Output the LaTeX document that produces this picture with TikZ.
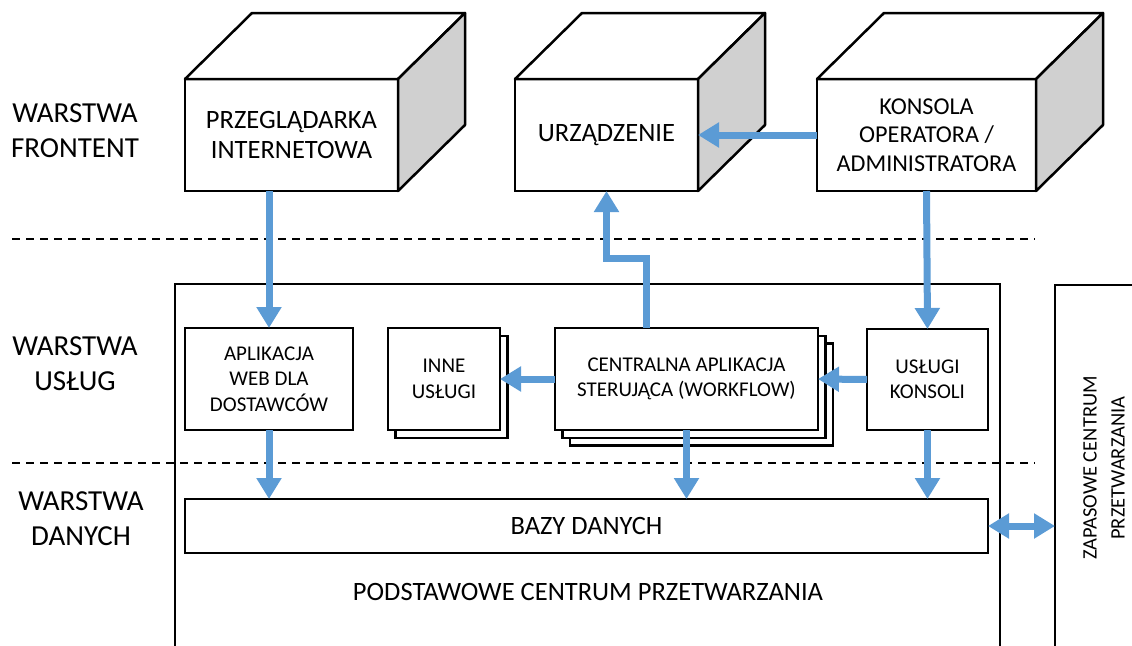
\documentclass[tikz,border=0pt]{standalone}
\usepackage{fontspec}
\setmainfont{Carlito}
\usetikzlibrary{positioning,calc,arrows.meta,shadows}

\definecolor{flowblue}{HTML}{5B9BD5}
\definecolor{sidegray}{HTML}{D0D0D0}

\tikzset{
  frontbox/.style={draw, line width=2.5pt, fill=white, inner sep=0pt, outer sep=0pt,
    align=center, font=\fontsize{26.5}{30}\selectfont},
  srvbox/.style={draw, line width=2.5pt, fill=white, inner sep=0pt, outer sep=0pt,
    align=center, font=\fontsize{21}{25.5}\selectfont},
  face/.style={draw, line width=2.5pt, line join=round},
  frame/.style={draw, line width=2pt},
  dashline/.style={line width=1.6pt, dash pattern=on 8pt off 6pt},
  layerlabel/.style={align=center, font=\fontsize{29}{35}\selectfont},
  flow/.style={draw=flowblue, line width=7pt, -{Triangle[width=24pt,length=21pt]}},
  flowboth/.style={draw=flowblue, line width=7pt,
    {Triangle[width=24pt,length=21pt]}-{Triangle[width=24pt,length=21pt]}}
}

\begin{document}
\begin{tikzpicture}[x=1pt,y=-1pt]
\useasboundingbox (0,0) rectangle (1132,645);

% layer borders
\draw[dashline] (12,239) -- (1035,239);
\draw[dashline] (12,463) -- (1035,463);

\node[layerlabel] (lblfront) at (75,131) {WARSTWA\\FRONTENT};
\node[layerlabel] (lblsrv) at (75,364) {WARSTWA\\USŁUG};
\node[layerlabel] (lbldata) at (81,519) {WARSTWA\\DANYCH};

% data centres
\draw[frame] (175,680) |- (1000,284) -- (1000,680);
\draw[frame] (1055,680) |- (1140,285);
\node[font=\fontsize{26.5}{30}\selectfont] (pcp) at (588,592) {PODSTAWOWE CENTRUM PRZETWARZANIA};
\node[rotate=90, align=center, font=\fontsize{20.5}{28}\selectfont] (zcp) at (1104,468)
  {ZAPASOWE CENTRUM\\PRZETWARZANIA};
\coordinate (zap) at (1055,526);

% frontend
\node[frontbox, minimum width=213pt, minimum height=112pt] (prz) at (291.5,135) {PRZEGLĄDARKA\\INTERNETOWA};
\node[frontbox, minimum width=183pt, minimum height=112pt] (urz) at (606.5,135) {URZĄDZENIE};
\node[frontbox, minimum width=219pt, minimum height=112pt,
  font=\fontsize{24.2}{28.5}\selectfont] (kon) at (926.5,135) {KONSOLA\\OPERATORA /\\ADMINISTRATORA};
\foreach \b in {prz,urz,kon}{
  \draw[face, fill=white] (\b.north west) -- ++(67,-66) -- ($(\b.north east)+(67,-66)$) -- (\b.north east) -- cycle;
  \draw[face, fill=sidegray] (\b.north east) -- ++(67,-66) -- ($(\b.south east)+(67,-66)$) -- (\b.south east) -- cycle;
}

% services
\node[srvbox, minimum width=168pt, minimum height=102pt] (apl) at (269,379) {APLIKACJA\\WEB DLA\\DOSTAWCÓW};
\node[srvbox, minimum width=112pt, minimum height=102pt,
  copy shadow={shadow xshift=7.5pt, shadow yshift=-8pt}] (inn) at (444,379) {INNE\\USŁUGI};
\node[srvbox, minimum width=263pt, minimum height=102pt,
  copy shadow={shadow xshift=15pt, shadow yshift=-15.5pt},
  copy shadow={shadow xshift=7.5pt, shadow yshift=-8pt}] (cen) at (686.5,379)
  {CENTRALNA APLIKACJA\\STERUJĄCA (WORKFLOW)};
\node[srvbox, minimum width=121pt, minimum height=101pt] (usk) at (927.5,379.5) {USŁUGI\\KONSOLI};

% data
\node[srvbox, minimum width=803pt, minimum height=54pt, font=\fontsize{26.5}{30}\selectfont] (baz) at (586.5,526) {BAZY DANYCH};

% flows
\draw[flow] (apl.north |- prz.south) -- (apl.north);
\draw[flow] (kon.south) -- (usk.north);
\draw[flow] (kon.west) -- (urz.east);
\draw[flow] ([xshift=-40pt]cen.north) -- ++(0,-70) -| (urz.south);
\draw[flow] (cen.west) -- (inn.east);
\draw[flow] (usk.west) -- (cen.east);
\draw[flow] (apl.south) -- (apl.south |- baz.north);
\draw[flow] (cen.south) -- (cen.south |- baz.north);
\draw[flow] (usk.south) -- (usk.south |- baz.north);
\draw[flowboth] (baz.east) -- (zap);
\end{tikzpicture}
\end{document}
